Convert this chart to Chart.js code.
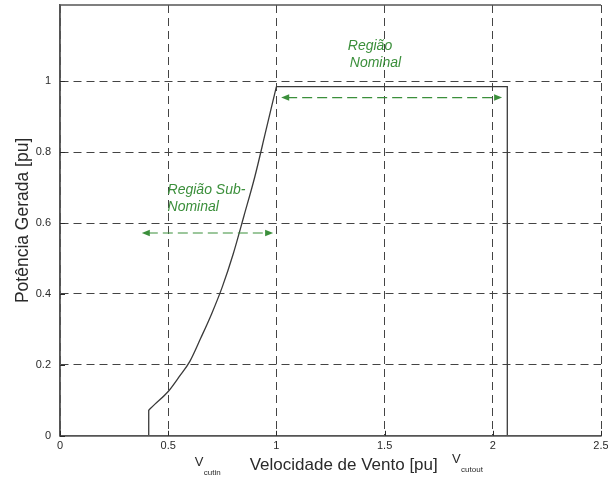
<!DOCTYPE html>
<html>
<head>
<meta charset="utf-8">
<script src="https://cdn.jsdelivr.net/npm/chart.js@4"></script>
<style>
  html, body { margin: 0; padding: 0; background: #fff; }
  #wrap { width: 608px; height: 485px; }
</style>
</head>
<body>
<div id="wrap"><canvas id="c"></canvas></div>
<script>
// Wind turbine power curve (per-unit): cut-in, cubic rise, rated plateau, cut-out.
const windSpeed = [0.41, 0.41, 0.44, 0.50, 0.55, 0.60, 0.65, 0.70, 0.75, 0.80, 0.85, 0.90, 0.95, 1.00, 2.067, 2.067];
const power     = [0.00, 0.073, 0.090, 0.125, 0.166, 0.210, 0.275, 0.343, 0.420, 0.512, 0.620, 0.730, 0.857, 0.985, 0.985, 0.00];
const xTicks = [0, 0.5, 1, 1.5, 2, 2.5];
const yTicks = [0, 0.2, 0.4, 0.6, 0.8, 1];

const FONT = '"Liberation Sans", Arial, Helvetica, sans-serif';
const GREEN = '#3b8f3b';
const INK = '#2a2a2a';
const CURVE = '#3a3a3a';

// Region annotations, placed in data coordinates
const regions = [
  { lines: ['Região Sub-', 'Nominal'], x: 0.497, y: [0.692, 0.645], from: 0.378, to: 0.985, at: 0.572, indent: 0 },
  { lines: ['Região', 'Nominal'],      x: 1.330, y: [1.098, 1.052], from: 1.022, to: 2.043, at: 0.954, indent: 2 }
];

const fmt = v => String(+Number(v).toFixed(2));
const pts = (a, b) => windSpeed.slice(a, b + 1).map((v, i) => ({ x: v, y: power[a + i] }));

function arrowHead(ctx, x, y, dir) {
  ctx.beginPath();
  ctx.moveTo(x, y);
  ctx.lineTo(x - dir * 8, y - 3.2);
  ctx.lineTo(x - dir * 8, y + 3.2);
  ctx.closePath();
  ctx.fill();
}

const decorations = {
  id: 'decorations',
  afterDraw(chart) {
    const { ctx, chartArea: a, scales: { x, y } } = chart;
    ctx.save();

    // solid frame on top, left and bottom
    ctx.strokeStyle = '#555';
    ctx.lineWidth = 1.5;
    ctx.setLineDash([]);
    ctx.beginPath();
    ctx.moveTo(a.right, a.top);
    ctx.lineTo(a.left, a.top);
    ctx.lineTo(a.left, a.bottom);
    ctx.lineTo(a.right, a.bottom);
    ctx.stroke();

    // inward tick marks
    ctx.lineWidth = 1;
    ctx.strokeStyle = INK;
    ctx.beginPath();
    xTicks.forEach(v => {
      const px = Math.round(x.getPixelForValue(v)) + 0.5;
      ctx.moveTo(px, a.bottom); ctx.lineTo(px, a.bottom - 5);
    });
    yTicks.forEach(v => {
      const py = Math.round(y.getPixelForValue(v)) + 0.5;
      ctx.moveTo(a.left, py); ctx.lineTo(a.left + 5, py);
    });
    ctx.stroke();

    // region arrows and labels
    regions.forEach(r => {
      const x1 = x.getPixelForValue(r.from);
      const x2 = x.getPixelForValue(r.to);
      const py = y.getPixelForValue(r.at);
      ctx.strokeStyle = GREEN;
      ctx.fillStyle = GREEN;
      ctx.lineWidth = 1.2;
      ctx.setLineDash([10, 5]);
      ctx.beginPath();
      ctx.moveTo(x1 + 6, py);
      ctx.lineTo(x2 - 6, py);
      ctx.stroke();
      ctx.setLineDash([]);
      arrowHead(ctx, x1, py, -1);
      arrowHead(ctx, x2, py, 1);

      ctx.font = 'italic 14px ' + FONT;
      ctx.textAlign = 'left';
      ctx.textBaseline = 'middle';
      r.lines.forEach((t, i) => {
        ctx.fillText(t, x.getPixelForValue(r.x) + (i === 1 ? r.indent : 0), y.getPixelForValue(r.y[i]));
      });
    });

    // x axis title with cut-in / cut-out speed labels
    ctx.fillStyle = INK;
    ctx.textBaseline = 'middle';
    ctx.textAlign = 'center';
    ctx.font = '17px ' + FONT;
    ctx.fillText('Velocidade de Vento [pu]', x.getPixelForValue(1.311), a.bottom + 30);

    ctx.textAlign = 'left';
    const vLabel = (v, sub, dy) => {
      const px = x.getPixelForValue(v);
      ctx.font = '13px ' + FONT;
      ctx.fillText('V', px, a.bottom + 27 + dy);
      ctx.font = '8px ' + FONT;
      ctx.fillText(sub, px + 9, a.bottom + 37 + dy);
    };
    vLabel(0.623, 'cutin', 0);
    vLabel(1.812, 'cutout', -3);

    ctx.restore();
  }
};

const lineStyle = { showLine: true, borderColor: CURVE, borderWidth: 1.3, pointRadius: 0 };

new Chart(document.getElementById('c'), {
  type: 'scatter',
  data: {
    datasets: [
      { ...lineStyle, data: pts(0, 1), tension: 0 },                                   // cut-in step
      { ...lineStyle, data: pts(1, 13), cubicInterpolationMode: 'monotone' },          // sub-rated region
      { ...lineStyle, data: pts(13, 15), tension: 0 }                                  // rated plateau and cut-out
    ]
  },
  options: {
    responsive: true,
    maintainAspectRatio: false,
    devicePixelRatio: 1,
    animation: false,
    layout: { padding: { left: 0, right: 0, top: 0, bottom: 28 } },
    plugins: { legend: { display: false }, tooltip: { enabled: false } },
    scales: {
      x: {
        type: 'linear',
        min: 0,
        max: 2.5,
        afterBuildTicks: s => { s.ticks = xTicks.map(v => ({ value: v })); },
        afterFit: s => { s.paddingRight = 7; },
        grid: { color: '#444', lineWidth: 1, drawTicks: false },
        border: { display: true, color: '#555', width: 1.5, dash: [8, 5] },
        ticks: { font: { family: FONT, size: 11 }, color: INK, padding: 4, maxRotation: 0, callback: fmt }
      },
      y: {
        type: 'linear',
        min: 0,
        max: 1.215,
        afterBuildTicks: s => { s.ticks = yTicks.map(v => ({ value: v })); },
        afterFit: s => { s.paddingTop = 5; s.paddingBottom = 0; s.width = 60; },
        grid: { color: '#444', lineWidth: 1, drawTicks: false },
        border: { display: true, color: '#555', width: 1.5, dash: [8, 5] },
        ticks: { font: { family: FONT, size: 11 }, color: INK, padding: 9, callback: fmt },
        title: {
          display: true,
          text: 'Potência Gerada [pu]',
          font: { family: FONT, size: 17.5 },
          color: INK,
          padding: { top: 13, bottom: 4 }
        }
      }
    }
  },
  plugins: [decorations]
});
</script>
</body>
</html>
